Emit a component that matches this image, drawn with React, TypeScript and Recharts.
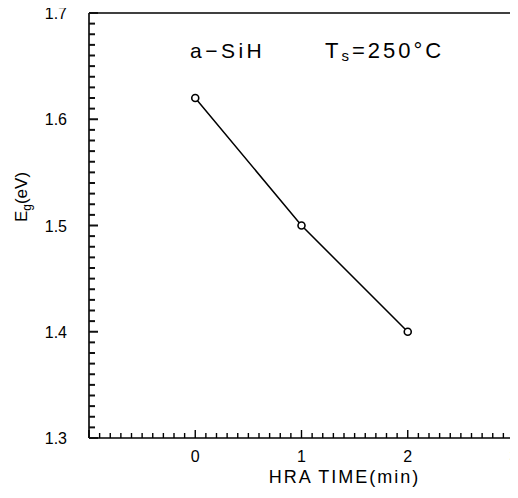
import { LineChart, Line, XAxis, YAxis, Label, ReferenceLine, Customized } from "recharts";

// HRA time (min) vs optical gap Eg (eV)
const hraTime = [0, 1, 2];
const bandGap = [1.62, 1.5, 1.4];

const xLabels = [0, 1, 2, 3];
const yLabels = [1.3, 1.4, 1.5, 1.6, 1.7];

const data = hraTime.map((t, i) => ({ t, eg: bandGap[i] }));

// minor ticks every 0.1 on x, every 0.01 on y
const xTicks = Array.from({ length: 41 }, (_, i) => Math.round((-1 + i * 0.1) * 10) / 10);
const yTicks = Array.from({ length: 41 }, (_, i) => Math.round((1.3 + i * 0.01) * 100) / 100);

const FONT = "'Liberation Sans', Arial, sans-serif";

const XTick = (props: any) => {
  const v = Number(props.payload.value);
  const px = Number(props.x);
  const py = Number(props.y);
  const major = Math.abs(v - Math.round(v)) < 1e-6;
  const show = major && xLabels.includes(Math.round(v));
  return (
    <g>
      <path d={`M${px},${py}V${py - (major ? 8 : 5)}`} stroke="#000" strokeWidth={1.4} fill="none" />
      {show && (
        <text x={px} y={py + 24} textAnchor="middle" fontSize={16} fontFamily={FONT} fill="#000">
          {Math.round(v)}
        </text>
      )}
    </g>
  );
};

const YTick = (props: any) => {
  const v = Number(props.payload.value);
  const px = Number(props.x);
  const py = Number(props.y);
  const major = Math.round(v * 100) % 10 === 0;
  const show = major && yLabels.some((l) => Math.abs(l - v) < 1e-6);
  return (
    <g>
      <path d={`M${px},${py}H${px + (major ? 9 : 6)}`} stroke="#111" strokeWidth={2} fill="none" />
      {show && (
        <text x={px - 22} y={py + 6} textAnchor="end" fontSize={16} fontFamily={FONT} fill="#000">
          {v.toFixed(1)}
        </text>
      )}
    </g>
  );
};

const Dot = (props: any) => {
  const { cx, cy } = props;
  return <circle cx={cx} cy={cy} r={3.5} fill="#fff" stroke="#000" strokeWidth={1.6} />;
};

const Annotations = () => (
  <g fontFamily={FONT} fill="#000">
    <text x={182} y={58} fontSize={21} letterSpacing={3.5}>
      a−SiH
    </text>
    <text x={317} y={58} fontSize={22} letterSpacing={3}>
      T
      <tspan fontSize={15} dy={3}>s</tspan>
      <tspan dy={-3}>=250°C</tspan>
    </text>
  </g>
);

const YTitle = () => (
  <text
    transform="translate(19, 197) rotate(-90)"
    textAnchor="middle"
    fontSize={17}
    fontFamily={FONT}
    fill="#000"
  >
    E<tspan fontSize={12} dy={4}>g</tspan>
    <tspan dy={-4}>(eV)</tspan>
  </text>
);

export default function App() {
  return (
    <div style={{ width: 510, height: 498, marginTop: -8, background: "#fff" }}>
      <LineChart width={510} height={498} data={data} margin={{ top: 13, right: 4, bottom: 0, left: 0 }}>
        <XAxis
          dataKey="t"
          type="number"
          domain={[-1, 3]}
          ticks={xTicks}
          interval={0}
          height={60}
          tickSize={0}
          tickMargin={0}
          tick={<XTick />}
          axisLine={{ stroke: "#000", strokeWidth: 1.6 }}
        >
          <Label
            value="HRA TIME(min)"
            position="insideBottom"
            offset={15}
            dx={43}
            style={{ fontSize: 18, fontFamily: FONT, fill: "#000", letterSpacing: 2 }}
          />
        </XAxis>
        <YAxis
          type="number"
          domain={[1.3, 1.7]}
          ticks={yTicks}
          interval={0}
          width={81}
          tickSize={0}
          tickMargin={0}
          tick={<YTick />}
          axisLine={{ stroke: "#000", strokeWidth: 1.6 }}
        />
        <ReferenceLine y={1.7} stroke="#000" strokeWidth={1.6} />
        <ReferenceLine x={3} stroke="#000" strokeWidth={1.6} />
        <Line
          dataKey="eg"
          stroke="#000"
          strokeWidth={1.5}
          dot={<Dot />}
          activeDot={false}
          isAnimationActive={false}
        />
        <Customized component={Annotations} />
        <Customized component={YTitle} />
      </LineChart>
    </div>
  );
}
